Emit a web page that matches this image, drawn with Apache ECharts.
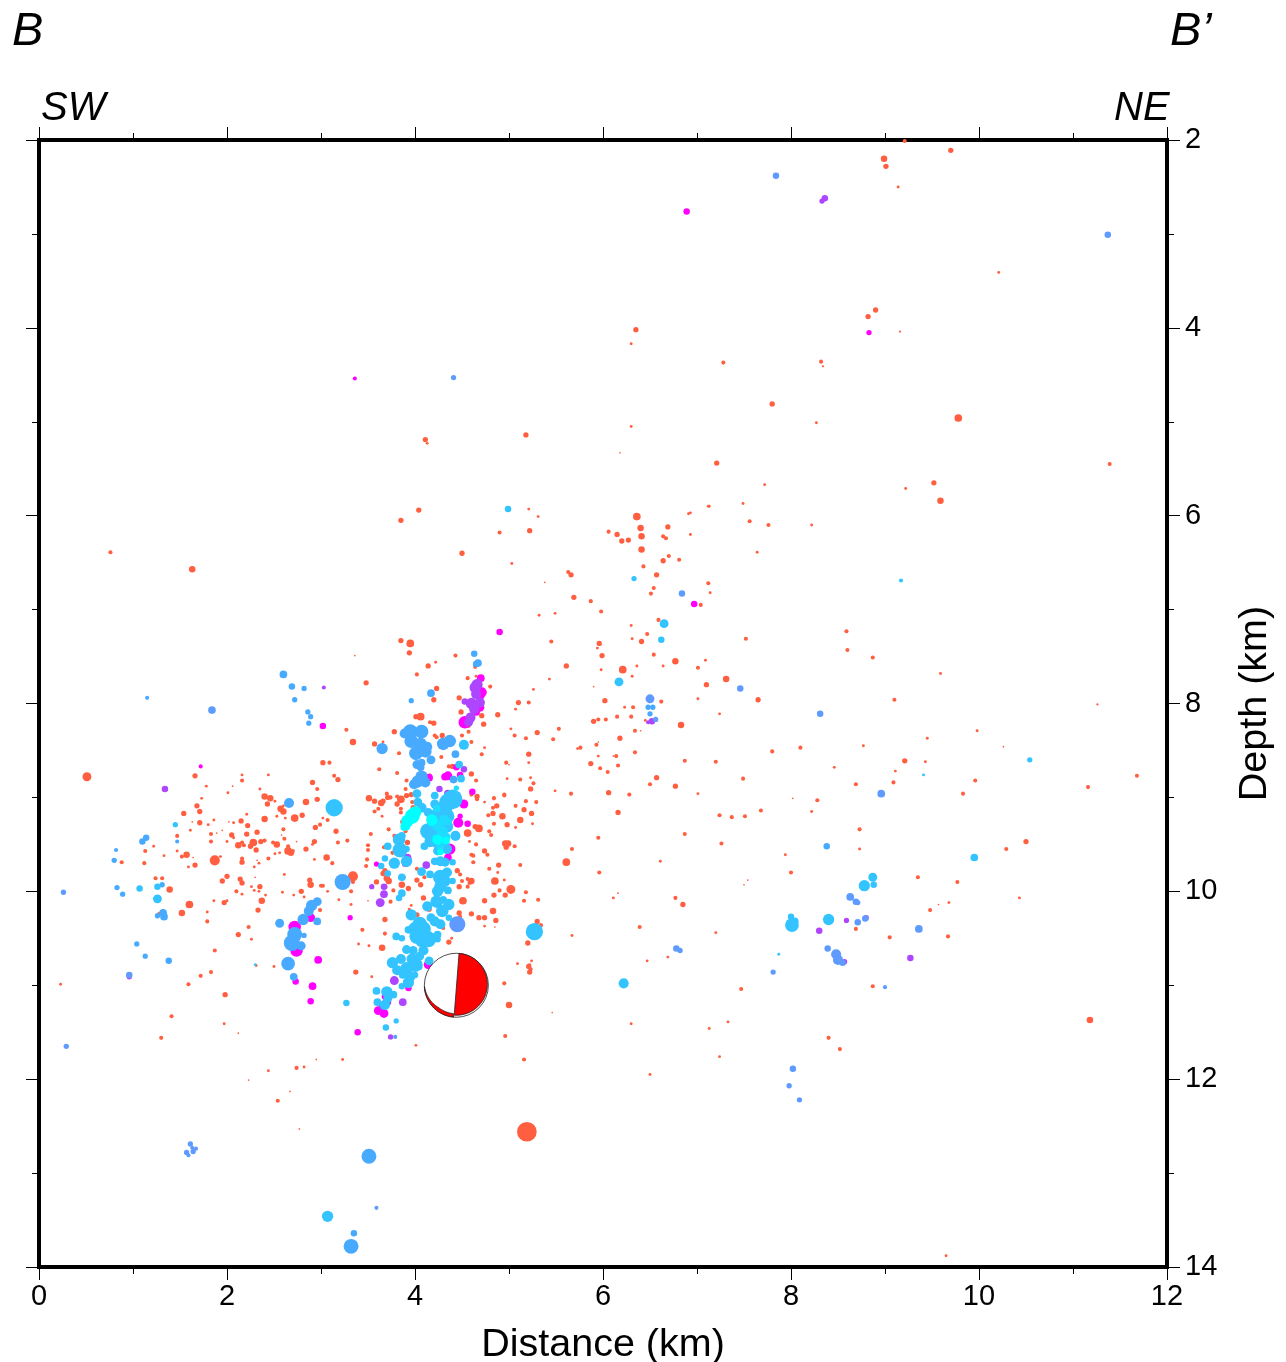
<!DOCTYPE html>
<html>
<head>
<meta charset="utf-8">
<style>html,body{margin:0;padding:0;background:#fff}#chart{width:1286px;height:1362px}</style>
<script src="https://cdn.jsdelivr.net/npm/echarts@6/dist/echarts.min.js"></script>
</head>
<body>
<div id="chart"></div>
<script>
// Each event: [distance km, depth km, marker diameter]
const redEvents = [
[5.19,12.56,16],[0.51,8.78,7],[1.63,6.57,5],[0.76,6.39,3],[8.99,2.2,5],[9.01,2.28,4],[9.7,2.11,4],[9.21,2.01,3],[9.14,2.5,2],[10.21,3.41,2],[8.9,3.81,4],[8.82,3.88,4],[9.16,4.04,1.5],[6.35,4.02,4],[6.3,4.17,2],[7.28,4.37,3],[8.32,4.36,3],[8.34,4.41,1.5],[7.8,4.81,4],[8.27,5.01,2],[9.78,4.96,6],[4.11,5.19,4],[4.13,5.23,2],[5.18,5.14,4],[6.3,5.05,2],[6.18,5.33,1],[7.21,5.44,4],[11.39,5.45,3],[7.72,5.67,2],[9.22,5.71,2],[9.52,5.65,4],[9.59,5.84,5],[7.49,5.87,2],[7.56,6.06,3],[7.76,6.1,3],[8.22,6.1,2],[7.64,6.39,2],[7.13,5.9,2],[6.93,5.97,2],[3.85,6.05,4],[4.04,5.94,4],[4.5,6.4,4],[4.9,6.18,3],[5.22,6.16,4],[5.21,5.93,2],[5.31,6.01,2],
[6.36,6.01,6],[6.4,6.13,5],[6.41,6.22,5],[6.41,6.36,5],[6.69,6.12,4],[6.91,5.98,2],[7.12,5.9,2],[6.93,6.2,2],[6.06,6.17,3],[6.15,6.2,4],[6.2,6.27,4],[6.27,6.26,4],[6.64,6.22,3],[6.67,6.24,3],[6.7,6.43,3],[6.81,6.47,3],[6.64,6.48,4],[6.43,6.54,3],[6.57,6.63,4],[6.54,6.77,3],[6.51,6.83,3],[7.12,6.72,3],[7.14,6.82,2],[7.04,6.95,3],[5.63,6.6,3],[5.66,6.63,4],[5.69,6.87,4],[5.87,6.91,3],[5.98,7.02,3],[5.38,6.71,1],[5.03,6.51,2],[5.32,7.06,2],[5.49,7.04,2],[6.59,7.11,3],[6.3,7.17,2],[6.31,7.31,2],[6.47,7.26,3],[6.41,7.34,4],[5.96,7.36,4],[5.94,7.41,2],[5.45,7.34,3],[5.99,7.49,4],[6.54,7.48,3],[5.61,7.6,4],[6.21,7.64,6],[6.36,7.6,2],[6.64,7.6,2],[6.77,7.55,5],[7.09,7.54,2],[7.01,7.62,3],[5.98,7.64,2],[6.31,7.71,2],[5.43,7.74,2],[5.26,7.85,2],[5.9,7.82,1],[7.31,7.74,5],[7.1,7.8,4],[7.01,7.95,2],[7.24,8.11,2],[6.02,7.97,4],[5.1,7.99,4],[5.21,7.99,3],[5.07,8.06,2],[4.88,8.12,4],[4.8,7.82,3],[6.23,8.04,2],[6.32,8.04,3],[6.62,7.98,3],[6.15,8.14,3],[6.3,8.14,3],[5.95,8.17,3],[5.9,8.19,4],[6.03,8.17,3],[6.45,8.18,2],[6.34,8.29,3],[6.4,8.29,1],[6.83,8.23,5],[5.53,8.27,3],[5.3,8.31,4],[5.02,8.27,2],[5.06,8.34,3],[5.18,8.37,3],[5.47,8.38,3],[4.74,8.47,2],[4.71,8.54,3],[5.76,8.47,3],[5.73,8.48,2],[5.93,8.44,3],[5.95,8.41,1],[6.18,8.37,4],[6.34,8.52,3],[5.95,8.56,2],[6.14,8.56,3],[6.11,8.56,1],[5.87,8.64,4],[5.97,8.69,3],[6.16,8.66,3],[6.05,8.73,3],[5.21,8.54,4],[5.21,8.63,2],[4.97,8.63,3],[5,8.65,1],[4.98,8.8,2],[5.12,8.81,3],[5.23,8.79,2],[5.26,8.85,3],[5.23,8.91,4],[5.49,8.93,2],[5.66,8.96,3],[6.06,8.95,4],[6.28,8.97,3],[6.57,8.79,4],[6.5,8.86,3],[6.77,8.88,4],[7.01,8.96,2],[6.87,8.61,3],[7.2,8.62,3],[4.95,8.97,3],[4.84,9,2],
[7.49,8.8,3],[7.8,8.51,3],[7.65,7.96,4],[7.52,7.31,3],[7.68,9.14,3],[7.51,9.2,3],[7.37,9.21,3],[7.26,9.49,3],[7.24,9.19,3],[6.87,9.39,3],[6.61,9.68,2],[6.16,9.16,4],[5.95,9.43,3],[5.61,9.69,6],[5.96,9.8,3],[6.16,10.02,1],[6.11,10.07,2],[6.77,10.07,3],[6.85,10.14,4],[7.54,9.88,1],[7.5,9.93,1],[7.94,9.61,2],[8,9.8,3],[9.35,9.85,3],[9.77,9.9,3],[9.48,10.2,3],[9.57,10.14,1],[9.68,10.12,2],[10.29,9.55,3],[10.5,9.47,4],[10.43,10.07,2],[9.67,10.48,3],[9.05,10.49,3],[8.69,10.4,3],[8.73,9.34,3],[8.73,9.55,2],[8.69,8.86,3],[9.09,8.84,3],[9.21,8.61,4],[9.11,8.72,2],[9.43,8.62,2],[9.45,8.37,2],[9.83,8.96,3],[9.96,8.82,3],[10.26,8.46,1],[9.98,8.29,2],[9.1,7.96,3],[8.87,7.51,3],[8.59,7.23,3],[8.6,7.43,3],[9.59,7.68,2],[11.26,8.01,1.5],[11.68,8.77,3],[11.16,8.89,3],[11.18,11.37,5],[8.77,8.45,2],[8.46,8.68,2],[8.1,8.47,3],[8.28,9.03,3],[8.22,9.15,2],[8.02,9.01,1],[5.67,9.55,3],
[8.87,11.01,3],[8.4,11.56,3],[8.52,11.68,3],[7.47,11.04,3],[7.33,11.39,2],[7.13,11.46,2],[7.24,11.76,2],[6.5,11.95,2],[6.3,11.41,2],[6.47,10.74,2],[6.69,10.7,2],[6.39,10.38,3],[7.2,10.44,2],[5,11.21,5],[4.96,11.54,3],[5.16,11.79,3],[5.46,11.29,1],[5.23,10.83,3],[5.22,10.78,2],[5.3,10.32,4],[5.34,10.36,3],[5.67,10.47,2],[9.65,13.88,2],[2.77,12.53,1],[2.54,12.23,3],[2.67,12.13,1],[2.23,12.01,1],[2.44,11.91,2],[2.74,11.88,3],[2.82,11.87,2],[2.95,11.79,1],[3.23,11.79,2],[1.3,11.56,3],[1.41,11.33,3],[1.97,11.41,2],[2.12,11.51,1],[0.23,10.99,2],[1.59,10.99,3],[1.72,10.9,3],[1.83,10.86,3],[1.98,11.1,4],[2.31,10.79,2],[2.6,10.78,2],
[1.66,8.77,4],[2.16,8.82,3],[2.16,8.76,2],[2.44,8.76,2],[1.78,8.88,2],[2.06,8.88,1],[2.01,8.95,2],[1.73,9.01,2],[1.68,9.09,4],[1.54,9.17,4],[1.71,9.15,4],[2.35,8.91,2],[2.4,8.99,5],[2.46,9.01,5],[2.51,9.04,2],[2.43,9.07,4],[2.57,9.12,5],[2.6,9.09,2],[2.6,9.15,5],[2.53,9.2,2],[2.62,9.22,2],[2.72,9.22,6],[2.8,9.19,4],[2.84,9.05,5],[2.91,8.84,4],[2.96,8.91,3],[2.96,9.02,4],[3.02,8.63,4],[3.09,8.63,3],[3.14,8.77,3],[3.18,8.81,4],[2.21,9.18,2],[2.4,9.23,5],[1.86,9.24,2],[1.71,9.27,4],[1.8,9.29,2],[1.63,9.26,1],[2.02,9.26,1],[2.07,9.27,2],[2.15,9.25,4],[2.22,9.3,4],[1.61,9.35,2],[1.47,9.41,3],[1.83,9.39,3],[1.83,9.47,3],[1.89,9.38,1],[1.95,9.35,1],[2.05,9.4,4],[2.07,9.43,2],[2,9.47,2],[2.12,9.51,5],[2.16,9.48,3],[2.18,9.51,3],[2.21,9.39,4],[2.25,9.52,4],[2.28,9.48,6],[2.32,9.37,4],[2.31,9.56,4],[2.36,9.47,4],[2.4,9.46,3],[2.49,9.48,3],[2.53,9.5,5],[2.51,9.6,2],[2.56,9.59,2],[2.6,9.34,3],[2.58,9.4,1],[2.61,9.44,3],[2.65,9.52,3],[2.65,9.57,6],[2.68,9.59,5],[2.7,9.57,3],[2.74,9.47,1],[2.84,9.55,4],[2.93,9.47,4],[2.91,9.5,2],[2.94,9.32,4],[2.99,9.29,3],[3.02,9.22,2],[3.07,9.24,3],[3.16,9.36,4],[3.18,9.48,3],[3.06,9.64,5],[3.12,9.7,3],[2.93,9.66,2],
[1.13,9.57,3],[1.22,9.52,2],[1.33,9.62,2],[0.88,9.69,3],[1.12,9.7,3],[1.52,9.63,3],[1.47,9.57,2],[1.57,9.61,5],[1.64,9.64,1],[1.59,9.74,2],[1.66,9.72,4],[1.87,9.67,8],[1.93,9.63,2],[2.16,9.65,3],[2.16,9.69,4],[2.29,9.74,2],[2.32,9.67,1],[2.34,9.7,2],[2.44,9.65,3],[2.61,9.82,2],[2.3,9.85,1],[2,9.84,4],[1.95,9.89,4],[2.14,9.87,4],[2.16,9.91,4],[2.26,9.95,2],[2.35,9.95,4],[2.29,9.99,2],[2.34,10,2],[2.1,10,3],[2.16,10.03,2],[2.41,10.04,2],[2.59,10.01,2],[2.71,10.04,2],[2.79,10,4],[2.82,10.06,2],[2.88,9.88,4],[2.89,9.93,5],[3,9.94,3],[3.02,9.94,3],[3.07,10,2],[3.19,10.09,2],[2.37,10.1,5],[1.97,10.12,4],[2,10.1,2],[1.86,10.1,2],[1.6,10.14,6],[1.52,10.23,5],[1.39,9.98,5],[1.24,9.86,3],[1.31,9.86,3],[2.33,10.2,4],[1.79,10.22,2],[1.79,10.32,3],[2.23,10.38,3],[2.12,10.46,4],[2.26,10.51,2],[1.87,10.63,3],[2.5,10.8,2],[2.99,10.2,3],[1.28,10.24,3],
[3.95,7.36,6],[3.94,7.46,4],[3.85,7.33,4],[3.36,7.49,1],[4.43,7.49,3],[4.14,7.6,4],[4.22,7.56,2],[4.02,7.69,3],[3.48,7.78,4],[4.23,7.84,4],[4.2,7.96,4],[4.47,7.94,4],[4.56,7.73,3],[4.65,7.71,2],[4.64,7.61,3],[4.49,8.09,4],[4.01,8.14,4],[4.06,8.14,6],[4.16,8.2,3],[4.2,8.21,4],[4.71,8.13,4],[4.73,8.22,4],[4.57,8.24,3],[4.57,8.3,3],[3.78,8.3,4],[3.27,8.28,3],[4.21,8.34,3],[4.23,8.36,3],[4.29,8.34,4],[4.5,8.34,3],[3.34,8.41,5],[3.57,8.43,4],[3.66,8.41,2],[3.83,8.53,3],[4.6,8.41,3],[4.28,8.57,3],[3.62,8.7,3],[3.81,8.74,3],[4.6,8.75,4],[4.65,8.82,3],[4.36,8.67,3],[4.4,8.67,4],[4.16,8.76,2],
[3.91,8.82,3],[3.9,8.91,3],[3.96,8.97,4],[3.7,8.96,3],[3.71,9,4],[3.51,9.01,5],[3.57,9.04,4],[3.64,9.06,5],[3.66,9.04,4],[3.74,9,3],[3.81,8.99,3],[3.85,9.02,6],[3.91,8.98,4],[3.81,9.07,4],[3.97,9.05,3],[3.98,9.11,4],[3.61,9.12,3],[3.57,9.15,3],[3.85,9.12,3],[3.85,9.16,3],[3.65,9.2,2],[3.87,9.26,4],[3.72,9.34,3],[3.53,9.39,3],[3.28,9.46,3],[3.9,9.36,3],[3.92,9.48,4],[3.78,9.41,3],[3.5,9.51,3],[3.5,9.56,3],[3.67,9.53,3],
[4.6,8.97,3],[4.66,8.99,4],[4.66,9.02,3],[4.74,9.05,2],[4.84,9.01,3],[4.87,9.09,4],[4.83,9.11,3],[4.78,9.19,3],[4.83,9.17,4],[4.93,9.2,5],[4.95,8.98,3],[5.07,9.09,3],[5.18,9.04,3],[5.29,9.05,3],[5.16,9.13,4],[5.24,9.17,4],[5.12,9.24,5],[5.25,9.28,2],[4.98,9.29,4],[4.84,9.28,3],[4.68,9.33,6],[4.64,9.31,4],[4.79,9.36,3],[4.81,9.4,3],[5.07,9.32,2],[4.56,9.38,6],[4.58,9.47,2],[4.65,9.5,3],[4.96,9.49,5],[4.99,9.49,5],[4.97,9.53,4],[5.06,9.52,3],[4.74,9.57,4],[4.77,9.61,3],[4.6,9.61,3],
[3.34,9.84,8],[3.34,9.9,3],[3.32,10,3],[3.32,10.14,2],[3.49,9.66,3],[3.48,9.73,3],[3.59,9.9,4],[3.5,10.1,1],[3.68,9.78,4],[3.66,9.81,4],[3.7,9.86,5],[3.72,9.89,5],[3.68,9.95,4],[3.76,9.59,3],[3.77,9.99,3],[3.74,10.11,3],[3.68,10.3,4],[3.44,10.41,3],[3.68,10.45,3],[3.4,10.56,2],[3.51,10.58,2],[3.65,10.6,5],[3.37,10.86,4],[3.54,10.91,2],[4.01,11.64,2],
[3.86,9.93,5],[3.93,9.97,4],[3.88,9.85,3],[4.02,9.76,3],[4.02,9.88,4],[4.06,9.93,4],[4.1,9.85,3],[4.09,10.07,4],[3.96,10.15,2],[3.94,10.19,2],[4.02,10.25,4],[4.15,10.19,4],[4.3,10.39,3],[4.36,10.54,4],[4.39,10.5,2],[4.51,10.1,6],[4.47,10.23,4],[4.48,10.27,3],[4.6,10.24,4],[4.68,10.28,4],[4.74,10.28,4],[4.83,10.21,5],[4.86,10.31,4],[4.74,10.37,2],[4.85,10.38,1],[4.6,9.89,5],[4.58,9.91,3],[4.47,9.95,4],[4.5,9.89,3],[4.56,9.87,3],[4.56,9.95,3],[4.45,9.78,4],[4.48,9.82,3],[4.62,9.69,3],[4.62,9.62,3],[4.79,9.76,3],[4.85,9.89,6],[4.95,9.88,2],[4.88,9.8,2],[4.89,9.72,4],[4.74,10.1,4],[4.84,10.04,4],[4.9,9.99,3],[4.96,10.04,4],[5.02,9.98,7],[5.16,10.1,3],[5.18,10.01,3],[5.12,9.72,3],[5.31,10.09,3],[5.2,10.55,4],[5.21,10.8,4],[5.22,10.86,4],[5.24,10.74,2],[5.09,10.77,2],[4.95,10.98,3]
];
const magentaEvents = [
[6.89,2.76,5],[8.83,4.05,4],[3.36,4.54,3],[4.9,7.24,5],[6.97,6.94,5],[3.02,8.24,5],[1.72,8.67,3],[4.7,7.73,6],[4.71,7.88,8],[4.69,7.91,8],[4.69,8.04,7],[4.65,8.09,6],[4.53,8.2,10],[4.35,8.77,7],[4.32,8.78,6],[4.44,8.68,5],[4.48,8.76,5],[4.15,8.79,6],[4.61,8.94,5],[4.52,9.07,7],[4.48,9.2,4],[4.46,9.27,8],[4.56,9.28,5],[4.37,9.55,9],[4.35,9.64,6],[2.72,10.38,10],[2.89,10.28,7],[2.74,10.63,10],[2.97,10.73,6],[2.73,10.96,5],[2.91,11.01,6],[2.89,11.17,5],[3.31,10.28,4],[3.39,11.5,5],[3.93,11.03,5],[4.14,10.78,7],[3.94,10.88,5],[3.61,11.27,7],[3.67,11.3,7],[3.68,11.12,5],[3.59,9.71,4],[3.93,9.66,5]
];
const purpleEvents = [
[3.54,9.95,4],[3.67,9.95,5],[3.67,10.03,6],[3.63,10.12,7],[3.78,10.95,7],[3.87,11.18,6],[3.74,11.55,4],[4.12,9.72,6],[3.92,9.64,6],[3.9,9.7,6],[3.66,11.22,7],[3.7,11.18,7],[4.66,7.8,9],[4.67,7.78,6],[4.64,7.83,9],[4.65,7.9,8],[4.53,7.98,5],[4.6,8,9],[4.69,7.99,8],[4.63,8.06,8],[4.59,8.15,8],[4.57,8.2,7],[4.52,8.7,5],[4.26,8.91,5],[4.35,8.96,6],[1.34,8.91,5],[3.03,7.83,3],[8.36,2.62,5],[8.33,2.65,4],[8.3,10.42,5],[9.27,10.71,5],[8.59,10.31,4],[8.8,10.28,4],[0.96,10.91,4],[6.52,8.19,5],[6.48,8.2,3],[8.57,10.75,4]
];
const periwinkleEvents = [
[1.61,12.69,4],[1.63,12.73,3],[1.57,12.78,4],[1.64,12.77,4],[1.59,12.81,3],[1.67,12.74,3],[7.84,2.38,5],[11.37,3.01,5],[6.84,6.83,5],[6.5,7.95,7],[7.46,7.84,5],[8.31,8.11,5],[8.63,10.06,6],[8.69,10.11,5],[8.71,10.12,4],[8.79,10.29,5],[8.71,10.33,5],[8.39,10.61,5],[8.48,10.67,8],[8.5,10.73,8],[8.55,10.76,5],[9.36,10.4,6],[9,11.02,3],[7.81,10.86,4],[6.78,10.61,5],[6.82,10.63,4],[4.45,10.35,13],[0.29,11.65,4],[0.26,10.01,4],[0.96,10.89,5],[3.59,13.37,3],[8.02,11.89,5],[7.98,12.07,4],[8.09,12.22,4],[1.84,8.07,6],[3.79,11.55,3],[8.96,8.96,6],[6.56,8.17,4],[4.41,4.53,4]
];
const blueEvents = [
[2.66,9.06,8],[1.14,9.43,5],[1.1,9.47,5],[0.82,9.56,3],[0.8,9.67,4],[1.47,9.47,3],[0.83,9.96,4],[0.89,10.03,4],[1.31,9.93,4],[1.26,10.26,4],[1.32,10.23,6],[1.33,10.27,6],[1.04,10.56,4],[1.13,10.69,4],[1.38,10.74,5],[2.96,10.11,7],[2.9,10.15,9],[2.87,10.21,8],[2.81,10.3,9],[2.96,10.32,6],[2.56,10.34,7],[2.72,10.46,12],[2.82,10.47,4],[2.69,10.55,13],[2.79,10.58,7],[2.65,10.77,11],[2.71,10.91,6],[2.6,7.69,6],[2.69,7.82,5],[2.82,7.84,4],[2.72,7.96,4],[2.86,8.09,4],[2.89,8.14,4],[2.87,8.21,4],[1.15,7.94,3],[3.65,8.48,9],[3.51,12.82,12],[3.35,13.64,5],[3.32,13.78,12],[6.48,8.04,4],[6.53,8.04,4],[6.5,8.11,4],[4.63,7.47,5],[4.67,7.57,6],[4.65,7.58,5],[4.17,7.89,6],[3.96,7.97,4],[3.95,8.3,12],[3.89,8.32,8],[4.07,8.3,11],[3.96,8.4,11],[4.06,8.43,10],[4.13,8.46,8],[4.01,8.53,11],[4.11,8.51,10],[4.3,8.43,10],[4.37,8.4,10],[4.43,8.54,6],[4.17,8.6,7],[4.07,8.63,6],[4.02,8.65,7],[4.06,8.68,6],[4.41,8.81,6],[4.07,8.78,10],[4.03,8.83,10],[3.99,8.86,8],[4.11,8.84,8],[3.23,9.9,13],[8.38,9.52,5]
];
const skyEvents = [
[3.14,9.11,14],[5.27,10.43,14],[8.78,9.94,9],[8.4,10.3,9],[8.01,10.36,11],[8.04,10.32,6],[8,10.27,5],[6.22,10.98,8],[6.17,7.77,7],[6.65,7.15,7],[6.62,7.32,5],[6.33,6.67,4],[4.99,5.93,5],[3.07,13.46,9],[9.95,9.64,6],[8.88,9.93,5],[8.87,9.85,7],[10.54,8.6,4],[9.17,6.69,3],[9.41,8.76,2],[1.45,9.29,4],[1.07,9.97,5],[1.26,9.95,5],[1.26,10.08,7],[2.3,10.78,2],[3.27,11.19,5],[7.87,10.67,2],[4.52,8.44,8],[4.47,8.65,6],[4.49,8.8,6],
[4.02,8.96,7],[4.21,8.98,6],[4.4,9.02,16],[4.35,9.05,14],[4.3,9.13,14],[4.23,9.2,12],[4.29,9.18,14],[4.19,9.23,10],[4.34,9.2,12],[4.27,9.31,14],[4.34,9.31,10],[4.23,9.34,12],[4.14,9.36,13],[4.27,9.41,12],[4.16,9.47,9],[4.23,9.48,9],[4.3,9.5,10],[4.34,9.55,8],[4.24,9.57,7],[4.21,9.07,7],[4.14,9.16,7],[4.03,9.05,7],[4.07,9.11,8],[4.43,9.41,8],[4.1,9.52,6],[3.83,9.45,10],[3.86,9.41,6],[3.71,9.52,6],[3.84,9.56,12],[3.91,9.55,5],
[3.78,9.7,9],[3.91,9.68,9],[3.85,9.59,6],[3.64,9.73,5],[3.68,9.65,5],[3.86,9.85,6],[3.71,9.81,5],[3.86,10.02,6],[3.83,10.07,5],[4.07,9.79,7],[4.16,9.82,6],[4.21,9.68,6],[4.27,9.68,8],[4.32,9.69,7],[4.4,9.69,5],[4.34,9.8,8],[4.27,9.85,12],[4.27,9.95,10],[4.24,10,9],[4.32,9.89,9],[4.23,10.11,10],[4.35,9.99,6],[4.4,9.89,5],[4.3,10.09,6],[4.36,10.14,9],[4.29,10.21,10],[4.13,10.16,8],[3.96,10.25,9],[4.17,10.28,7],[4.21,10.32,8],[4.27,10.35,8],[4.36,10.28,5],[4.05,10.35,12],[4,10.4,11],[4.09,10.4,12],[4.02,10.48,12],[4.14,10.51,13],[4.07,10.53,10],[3.93,10.41,6],[3.8,10.48,6],[3.86,10.5,5],[4.24,10.46,6],[4.24,10.51,5],[3.91,10.62,7],[3.98,10.63,7],[4.09,10.63,8],[4.05,10.69,7],[3.97,10.72,9],[3.76,10.76,9],[3.85,10.72,8],[4,10.78,12],[4.04,10.8,6],[3.91,10.82,10],[3.81,10.84,8],[4.15,10.74,7],[3.87,10.89,6],[3.95,10.91,8],[3.93,10.97,9],[4,10.89,5],[3.86,11.01,5],[3.59,11.06,6],[3.7,11.07,9],[3.77,11.1,6],[3.6,11.18,6],[3.68,11.21,8],[3.71,11.14,7],[3.8,11.38,4],[3.69,11.45,5]
];
const aquaEvents = [
[4.31,9.24,8],[4.24,9.3,9],[4.29,9.36,9],[4.33,9.42,7],[4.18,9.26,8],[4.22,9.44,7],[4.35,9.26,6],[4.27,9.52,6],[4.23,9.12,6],[4.44,8.9,4]
];
const cyanEvents = [
[3.97,9.2,12],[4,9.16,10],[3.92,9.25,10],[3.9,9.3,8],[3.94,9.22,8],[4.18,9.24,9],[4.24,9.45,8],[4.33,9.46,6],[3.88,9.32,5],[4.27,9.58,5]
];
const focalEvents = [[4.44,11.0]];
const distanceTicks = ['0','2','4','6','8','10','12'];
const depthTicks = ['2','4','6','8','10','12','14'];

const FONT = '"Liberation Sans", Arial, sans-serif';
const MARK_SCALE = 1.2;
const scatter = (data, color) => ({
  type: 'scatter', data, silent: true, animation: false,
  symbol: 'circle',
  symbolSize: v => v[2] * MARK_SCALE + 0.5,
  itemStyle: { color, opacity: 1 }
});

function polarPts(c, ox, oy, r, a0, a1) {
  const pts = [];
  const n = 48;
  for (let i = 0; i <= n; i++) {
    const a = (a0 + (a1 - a0) * i / n) * Math.PI / 180;
    pts.push([c[0] + ox + r * Math.cos(a), c[1] + oy + r * Math.sin(a)]);
  }
  return pts;
}

function crescentInner(c, R) {
  const pts = [];
  for (let t = 178; t >= 95; t -= 2) {
    const a = t * Math.PI / 180;
    const r = R - 3.5 * Math.min(1, (178 - t) / 50);
    pts.push([c[0] + r * Math.cos(a), c[1] + r * Math.sin(a)]);
  }
  return pts;
}

function renderFocal(params, api) {
  const c = api.coord([api.value(0), api.value(1)]);
  const R = 32;
  const east = polarPts(c, 0, -1, 31, -85, 94);
  const outer = polarPts(c, 0, 0, R, 95, 178);
  const inner = crescentInner(c, R);
  return {
    type: 'group',
    children: [
      { type: 'circle', shape: { cx: c[0], cy: c[1], r: R }, style: { fill: '#fff', stroke: '#222', lineWidth: 0.8 } },
      { type: 'polygon', shape: { points: east }, style: { fill: '#ff0000', stroke: '#222', lineWidth: 0.8 } },
      { type: 'polygon', shape: { points: outer.concat(inner) }, style: { fill: '#ff0000', stroke: '#222', lineWidth: 0.8 } }
    ]
  };
}

const xBase = {
  type: 'value', min: 0, max: 12, interval: 2,
  axisLine: { show: true, onZero: false, lineStyle: { color: '#000', width: 4, cap: 'square' } },
  axisTick: { show: true, length: 13, lineStyle: { color: '#000', width: 1 } },
  minorTick: { show: true, splitNumber: 2, length: 7, lineStyle: { color: '#000', width: 1 } },
  splitLine: { show: false }, minorSplitLine: { show: false }
};
const yBase = {
  type: 'value', min: 2, max: 14, interval: 2, inverse: true,
  axisLine: { show: true, onZero: false, lineStyle: { color: '#000', width: 4, cap: 'square' } },
  axisTick: { show: true, length: 13, lineStyle: { color: '#000', width: 1 } },
  minorTick: { show: true, splitNumber: 2, length: 7, lineStyle: { color: '#000', width: 1 } },
  splitLine: { show: false }, minorSplitLine: { show: false }
};
const labelStyle = { color: '#000', fontFamily: FONT, fontSize: 29 };

const chart = echarts.init(document.getElementById('chart'), null, { renderer: 'canvas' });
chart.setOption({
  animation: false,
  backgroundColor: '#fff',
  grid: { left: 39, top: 140, width: 1128, height: 1127, containLabel: false, outerBoundsMode: 'none' },
  xAxis: [
    Object.assign({}, xBase, {
      position: 'bottom',
      name: 'Distance (km)', nameLocation: 'middle', nameGap: 58,
      nameTextStyle: { color: '#000', fontFamily: FONT, fontSize: 39.5 },
      axisLabel: Object.assign({ show: true, margin: 15, hideOverlap: false, showMinLabel: true, showMaxLabel: true }, labelStyle)
    }),
    Object.assign({}, xBase, { position: 'top', axisLabel: { show: false } })
  ],
  yAxis: [
    Object.assign({}, yBase, { position: 'left', axisLabel: { show: false } }),
    Object.assign({}, yBase, {
      position: 'right',
      name: 'Depth (km)', nameLocation: 'middle', nameGap: 68, nameRotate: 90,
      nameTextStyle: { color: '#000', fontFamily: FONT, fontSize: 39.5 },
      axisLabel: Object.assign({ show: true, margin: 18, hideOverlap: false, showMinLabel: true, showMaxLabel: true }, labelStyle)
    })
  ],
  series: [
    scatter(redEvents, '#ff5f40'),
    scatter(magentaEvents, '#ff00ff'),
    scatter(purpleEvents, '#ae45ff'),
    scatter(periwinkleEvents, '#5f9bff'),
    scatter(blueEvents, '#48aaff'),
    scatter(skyEvents, '#33c4ff'),
    scatter(aquaEvents, '#1fdcff'),
    scatter(cyanEvents, '#00ffff'),
    { type: 'custom', data: focalEvents, silent: true, animation: false, renderItem: renderFocal, clip: false, z: 10 }
  ],
  graphic: [
    { type: 'text', left: 12, top: 8, style: { text: 'B', fontFamily: FONT, fontStyle: 'italic', fontSize: 47, fill: '#000' } },
    { type: 'text', left: 1170, top: 8, style: { text: 'B’', fontFamily: FONT, fontStyle: 'italic', fontSize: 47, fill: '#000' } },
    { type: 'text', left: 41, top: 89, style: { text: 'SW', fontFamily: FONT, fontStyle: 'italic', fontSize: 40, fill: '#000' } },
    { type: 'text', left: 1114, top: 89, style: { text: 'NE', fontFamily: FONT, fontStyle: 'italic', fontSize: 40, fill: '#000' } }
  ]
});
</script>
</body>
</html>
